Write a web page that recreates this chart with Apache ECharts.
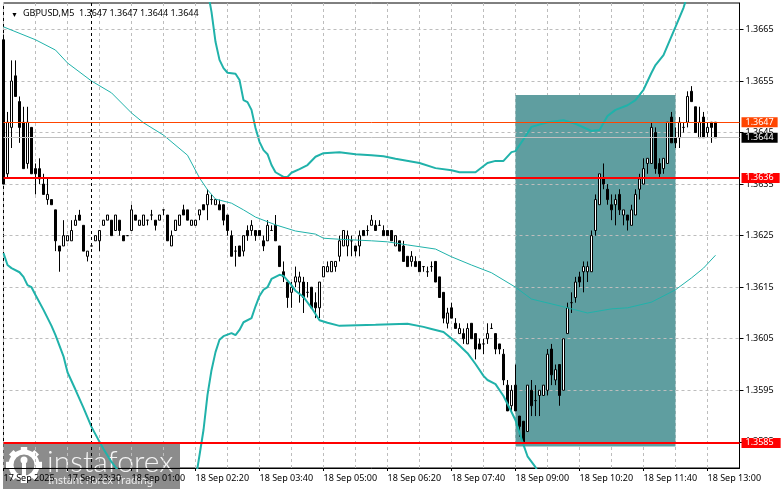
<!DOCTYPE html>
<html><head><meta charset="utf-8">
<style>html,body{margin:0;padding:0;background:#fff}#c{width:781px;height:489px}</style>
<script src="https://cdn.jsdelivr.net/npm/echarts@6/dist/echarts.min.js"></script>
</head><body><div id="c"></div>
<script>
const opens=[1.3663,1.3637,1.3646,1.3656,1.3651,1.3647,1.3639,1.3646,1.3638,1.3638,
1.3635,1.3632,1.3632,1.3630,1.3623,1.3623,1.3624,1.3624,1.3627,1.3629,
1.3627,1.3621,1.3623,1.3624,1.3624,1.3627,1.3628,1.3628,1.3626,1.3628,
1.3625,1.3625,1.3626,1.3629,1.3627,1.3627,1.3628,1.3629,1.3628,1.3628,
1.3630,1.3629,1.3623,1.3626,1.3627,1.3630,1.3630,1.3627,1.3627,1.3629,
1.3631,1.3631,1.3632,1.3631,1.3631,1.3631,1.3629,1.3625,1.3622,1.3623,
1.3622,1.3626,1.3626,1.3626,1.3626,1.3624,1.3624,1.3626,1.3627,1.3623,
1.3618,1.3616,1.3614,1.3616,1.3616,1.3616,1.3614,1.3615,1.3612,1.3611,
1.3617,1.3618,1.3618,1.3619,1.3621,1.3623,1.3623,1.3624,1.3623,1.3623,
1.3626,1.3626,1.3627,1.3627,1.3627,1.3626,1.3626,1.3626,1.3623,1.3624,
1.3623,1.3621,1.3620,1.3620,1.3620,1.3619,1.3618,1.3619,1.3620,1.3617,
1.3614,1.3608,1.3611,1.3608,1.3606,1.3606,1.3604,1.3608,1.3606,1.3604,
1.3604,1.3605,1.3607,1.3606,1.3604,1.3602,1.3596,1.3592,1.3596,1.3590,
1.3589,1.3587,1.3595,1.3593,1.3594,1.3594,1.3595,1.3603,1.3597,1.3600,
1.3595,1.3606,1.3612,1.3613,1.3617,1.3618,1.3618,1.3618,1.3626,1.3631,
1.3636,1.3634,1.3631,1.3631,1.3633,1.3629,1.3629,1.3627,1.3629,1.3634,
1.3635,1.3639,1.3639,1.3645,1.3639,1.3638,1.3639,1.3648,1.3644,1.3644,
1.3646,1.3647,1.3653,1.3650,1.3644,1.3648,1.3645,1.3647,1.3647];
const closes=[1.3635,1.3647,1.3655,1.3652,1.3646,1.3638,1.3647,1.3637,1.3637,1.3636,
1.3633,1.3633,1.3631,1.3624,1.3622,1.3625,1.3625,1.3626,1.3628,1.3628,
1.3622,1.3622,1.3623,1.3625,1.3626,1.3628,1.3629,1.3625,1.3629,1.3626,
1.3624,1.3625,1.3630,1.3628,1.3628,1.3629,1.3628,1.3629,1.3627,1.3629,
1.3630,1.3624,1.3625,1.3628,1.3629,1.3629,1.3628,1.3628,1.3628,1.3630,
1.3630,1.3633,1.3632,1.3632,1.3630,1.3628,1.3626,1.3621,1.3622,1.3621,
1.3625,1.3625,1.3627,1.3625,1.3625,1.3623,1.3627,1.3626,1.3624,1.3619,
1.3617,1.3613,1.3615,1.3617,1.3617,1.3613,1.3614,1.3611,1.3611,1.3616,
1.3619,1.3619,1.3620,1.3620,1.3624,1.3626,1.3625,1.3624,1.3622,1.3625,
1.3625,1.3626,1.3628,1.3626,1.3627,1.3625,1.3625,1.3624,1.3625,1.3622,
1.3620,1.3619,1.3621,1.3619,1.3618,1.3619,1.3618,1.3619,1.3616,1.3613,
1.3609,1.3610,1.3609,1.3607,1.3607,1.3605,1.3607,1.3605,1.3603,1.3603,
1.3604,1.3606,1.3607,1.3603,1.3603,1.3597,1.3591,1.3595,1.3591,1.3588,
1.3585,1.3596,1.3592,1.3593,1.3595,1.3596,1.3602,1.3598,1.3599,1.3594,
1.3605,1.3611,1.3612,1.3616,1.3616,1.3619,1.3619,1.3625,1.3632,1.3637,
1.3635,1.3632,1.3630,1.3632,1.3630,1.3630,1.3628,1.3630,1.3633,1.3636,
1.3638,1.3640,1.3646,1.3638,1.3637,1.3640,1.3647,1.3643,1.3643,1.3647,
1.3646,1.3652,1.3651,1.3645,1.3647,1.3644,1.3646,1.3646,1.3644];
const highs=[1.3664,1.3649,1.3659,1.3659,1.3652,1.3650,1.3650,1.3646,1.3639,1.3640,
1.3637,1.3636,1.3632,1.3630,1.3623,1.3628,1.3625,1.3628,1.3629,1.3630,
1.3627,1.3622,1.3623,1.3625,1.3626,1.3628,1.3629,1.3628,1.3629,1.3628,
1.3625,1.3625,1.3631,1.3629,1.3628,1.3629,1.3628,1.3630,1.3628,1.3629,
1.3630,1.3629,1.3626,1.3628,1.3629,1.3631,1.3630,1.3628,1.3628,1.3630,
1.3631,1.3634,1.3633,1.3632,1.3632,1.3631,1.3629,1.3626,1.3623,1.3623,
1.3625,1.3627,1.3628,1.3626,1.3626,1.3625,1.3628,1.3627,1.3629,1.3623,
1.3620,1.3616,1.3616,1.3619,1.3618,1.3617,1.3616,1.3615,1.3614,1.3616,
1.3619,1.3620,1.3620,1.3620,1.3625,1.3626,1.3626,1.3625,1.3623,1.3626,
1.3626,1.3627,1.3629,1.3628,1.3628,1.3627,1.3626,1.3626,1.3625,1.3624,
1.3624,1.3621,1.3622,1.3621,1.3620,1.3619,1.3619,1.3620,1.3620,1.3617,
1.3614,1.3611,1.3612,1.3609,1.3608,1.3607,1.3608,1.3608,1.3606,1.3605,
1.3605,1.3608,1.3608,1.3606,1.3604,1.3603,1.3597,1.3596,1.3600,1.3590,
1.3589,1.3596,1.3597,1.3596,1.3595,1.3596,1.3603,1.3604,1.3600,1.3600,
1.3605,1.3612,1.3614,1.3617,1.3618,1.3620,1.3620,1.3626,1.3633,1.3637,
1.3639,1.3635,1.3633,1.3633,1.3634,1.3630,1.3629,1.3631,1.3634,1.3637,
1.3640,1.3640,1.3647,1.3646,1.3640,1.3640,1.3647,1.3649,1.3646,1.3648,
1.3647,1.3653,1.3654,1.3650,1.3650,1.3649,1.3647,1.3647,1.3647];
const lows=[1.3635,1.3636,1.3642,1.3652,1.3643,1.3638,1.3638,1.3637,1.3633,1.3635,
1.3633,1.3631,1.3631,1.3622,1.3618,1.3623,1.3624,1.3624,1.3627,1.3628,
1.3622,1.3620,1.3623,1.3624,1.3622,1.3627,1.3628,1.3625,1.3626,1.3625,
1.3624,1.3625,1.3626,1.3628,1.3627,1.3627,1.3627,1.3628,1.3626,1.3628,
1.3629,1.3624,1.3623,1.3626,1.3627,1.3629,1.3628,1.3627,1.3627,1.3628,
1.3630,1.3628,1.3631,1.3631,1.3630,1.3627,1.3625,1.3621,1.3619,1.3621,
1.3621,1.3624,1.3625,1.3624,1.3625,1.3622,1.3624,1.3626,1.3624,1.3619,
1.3616,1.3611,1.3611,1.3615,1.3612,1.3610,1.3613,1.3611,1.3609,1.3609,
1.3617,1.3618,1.3618,1.3618,1.3620,1.3623,1.3621,1.3621,1.3621,1.3621,
1.3625,1.3625,1.3627,1.3626,1.3627,1.3625,1.3625,1.3624,1.3623,1.3622,
1.3620,1.3619,1.3619,1.3619,1.3618,1.3618,1.3617,1.3618,1.3616,1.3613,
1.3608,1.3607,1.3609,1.3607,1.3606,1.3604,1.3604,1.3605,1.3601,1.3603,
1.3602,1.3604,1.3607,1.3602,1.3602,1.3596,1.3591,1.3591,1.3591,1.3586,
1.3585,1.3587,1.3590,1.3590,1.3590,1.3594,1.3594,1.3596,1.3596,1.3592,
1.3595,1.3606,1.3610,1.3612,1.3615,1.3614,1.3616,1.3618,1.3625,1.3631,
1.3634,1.3631,1.3628,1.3627,1.3629,1.3627,1.3626,1.3627,1.3629,1.3632,
1.3635,1.3637,1.3639,1.3637,1.3636,1.3637,1.3639,1.3643,1.3642,1.3642,
1.3645,1.3646,1.3651,1.3645,1.3644,1.3644,1.3644,1.3643,1.3644];

const midBand=[[0,1.36655],[8,1.3663],[13,1.3661],[16,1.36585],[22,1.3655],[27,1.36527],[32,1.36488],[35,1.36469],[40,1.36445],[46,1.36406],[49,1.36362],[51,1.36339],[53,1.36321],[57,1.36313],[60,1.363],[63,1.36286],[68,1.36271],[73,1.36259],[78,1.36253],[80,1.36245],[84,1.36243],[92,1.3624],[96,1.36238],[101,1.36232],[108,1.36224],[112,1.36209],[117,1.36193],[122,1.36178],[128,1.3615],[132,1.36127],[140,1.36112],[146,1.361],[152,1.36108],[156,1.3611],[162,1.36121],[168,1.36145],[172,1.36168],[175,1.36187],[178,1.36212]];
const upperBand=[[51,1.36727],[52,1.36684],[53,1.36626],[54,1.36591],[55,1.36575],[56,1.36566],[58,1.36564],[59,1.36552],[60,1.36513],[61,1.36509],[62,1.36494],[63,1.36459],[64,1.36432],[65,1.36416],[66,1.36408],[67,1.36387],[68,1.36373],[70,1.36364],[71,1.36364],[72,1.36372],[74,1.36379],[76,1.36387],[78,1.36403],[80,1.3641],[84,1.36412],[88,1.36408],[92,1.36406],[95,1.36404],[98,1.36399],[104,1.36391],[108,1.36381],[112,1.36377],[114,1.36373],[118,1.36373],[121,1.36391],[123,1.36395],[125,1.36395],[127,1.36412],[128,1.36414],[130,1.36437],[132,1.36461],[136,1.3647],[140,1.36474],[143,1.36467],[147,1.36453],[149,1.36455],[151,1.36482],[153,1.36494],[156,1.36503],[158,1.36513],[160,1.36533],[162,1.36566],[163,1.36581],[165,1.366],[168,1.36655],[170,1.36692],[171,1.36717]];
const lowerBand=[[0,1.36216],[1,1.36193],[2,1.36187],[4,1.36179],[5,1.3617],[6,1.36154],[7,1.3615],[8,1.36135],[10,1.36106],[12,1.36075],[13,1.36057],[15,1.36016],[16,1.35985],[18,1.35951],[20,1.35916],[22,1.35879],[24,1.3585],[25,1.35836],[27,1.35811],[29,1.35791],[48,1.35776],[49,1.35824],[50,1.35873],[51,1.35941],[52,1.35989],[53,1.36024],[54,1.36048],[55,1.36055],[57,1.36061],[58,1.36057],[59,1.36067],[60,1.36082],[62,1.3609],[63,1.36113],[64,1.36133],[65,1.36145],[66,1.3615],[67,1.36166],[69,1.36174],[70,1.36172],[72,1.36154],[73,1.36143],[75,1.36131],[77,1.3611],[79,1.36086],[81,1.36081],[84,1.36075],[93,1.36077],[101,1.36079],[105,1.36073],[107,1.36069],[110,1.36063],[113,1.36044],[116,1.36022],[118,1.36001],[120,1.35978],[121,1.3597],[123,1.35962],[125,1.35939],[127,1.35908],[128,1.35892],[130,1.35844],[131,1.35822],[133,1.35801],[134,1.35785]];

const tickLabels=['17 Sep 2025','17 Sep 23:30','18 Sep 01:00','18 Sep 02:20','18 Sep 03:40','18 Sep 05:00','18 Sep 06:20','18 Sep 07:40','18 Sep 09:00','18 Sep 10:20','18 Sep 11:40','18 Sep 13:00'];
const priceTicks=[1.3585,1.3595,1.3605,1.3615,1.3625,1.3635,1.3645,1.3655,1.3665];
const slots=185, labelEvery=16, gridEvery=8;
const categories=Array.from({length:slots},(_,i)=>i%labelEvery===0?tickLabels[i/labelEvery]:'bar'+i);
const candles=opens.map((o,i)=>[o,closes[i],lows[i],highs[i]]);
const separatorIdx=22;
const zone={x0:128,x1:168,top:1.36523,bottom:1.35841};
const levels=[
 {v:1.3644,line:'#C0C0C0',w:1,bg:'#000000',pad:[1,4,0,4]},
 {v:1.3647,line:'#FF4500',w:1,bg:'#FF4500',pad:[1,4,0,4]},
 {v:1.36362,line:'#FF0000',w:2,bg:'#FF0000',pad:[1,6,0,4]},
 {v:1.35848,line:'#FF0000',w:2,bg:'#FF0000',pad:[1,7,0,4]}
];
const FONT='"Noto Sans"';
const gearTeeth=[0,1,2,3,4,5,6,7].map(k=>({type:'rect',rotation:k*Math.PI/4,shape:{x:-3.2,y:-18,width:6.4,height:6},style:{fill:'#fff'}}));

const chart=echarts.init(document.getElementById('c'),null,{renderer:'canvas'});
chart.setOption({
 animation:false,
 backgroundColor:'#fff',
 grid:{left:3.5,top:3,width:736,height:465,show:true,borderColor:'#000',borderWidth:1,backgroundColor:'transparent'},
 title:[
  {text:'▼',left:6,top:6,textStyle:{fontFamily:FONT,fontSize:7,fontWeight:'normal',color:'#000'}},
  {text:'GBPUSD,M5  1.3647 1.3647 1.3644 1.3644',left:18,top:4,textStyle:{fontFamily:FONT,fontSize:9,fontWeight:'normal',color:'#000'}}
 ],
 xAxis:{type:'category',data:categories,boundaryGap:false,z:0,
  axisLine:{show:true,lineStyle:{color:'#000'}},
  axisTick:{show:true,length:3,interval:(i)=>i%labelEvery===0,lineStyle:{color:'#000'}},
  axisLabel:{show:true,align:'left',margin:6,fontFamily:FONT,fontSize:9,color:'#000',interval:(i)=>i%labelEvery===0,hideOverlap:false},
  splitLine:{show:true,interval:(i)=>i%gridEvery===0,lineStyle:{color:'#BDBDBD',type:[3,3],width:1}}
 },
 yAxis:{type:'value',position:'right',min:1.3579927,max:1.3670131,z:1.5,scale:true,
  axisLine:{show:true,lineStyle:{color:'#000'}},
  axisTick:{show:true,length:4,customValues:priceTicks,lineStyle:{color:'#000'}},
  axisLabel:{show:true,margin:6,fontFamily:FONT,fontSize:9,color:'#000',customValues:priceTicks,formatter:(v)=>v.toFixed(4)},
  splitLine:{show:true,lineStyle:{color:'#BDBDBD',type:[3,3],width:1}}
 },
 series:[
  {type:'line',name:'zone',data:[],z:1,silent:true,
   markArea:{z:1,silent:true,itemStyle:{color:'#5F9EA0',opacity:1},data:[[{xAxis:zone.x0,yAxis:zone.top},{xAxis:zone.x1,yAxis:zone.bottom}]]}},
  {type:'candlestick',name:'GBPUSD',data:candles,z:3,barWidth:2,
   itemStyle:{color:'#fff',color0:'#000',borderColor:'#000',borderColor0:'#000',borderColorDoji:'#000',borderWidth:1}},
  {type:'line',name:'mid',data:midBand,z:4,showSymbol:false,lineStyle:{color:'#20B2AA',width:1}},
  {type:'line',name:'upper',data:upperBand,z:4,showSymbol:false,lineStyle:{color:'#20B2AA',width:2}},
  {type:'line',name:'lower',data:lowerBand,z:4,showSymbol:false,lineStyle:{color:'#20B2AA',width:2}},
  {type:'line',name:'levels',data:[],z:5,silent:true,
   markLine:{z:5,silent:true,symbol:'none',animation:false,precision:5,
    data:[{xAxis:separatorIdx,lineStyle:{color:'#000',type:[3,3],width:1},label:{show:false}}].concat(levels.map(l=>({
     yAxis:l.v,lineStyle:{color:l.line,type:'solid',width:l.w},
     label:{show:true,position:'end',distance:2,formatter:l.v.toFixed(4),color:'#fff',backgroundColor:l.bg,padding:l.pad,fontFamily:FONT,fontSize:9}
    })))}}
 ],
 graphic:[{type:'group',x:0,y:0,z:100,silent:true,children:[
  {type:'rect',shape:{x:3,y:444,width:177,height:45},style:{fill:'rgba(120,120,120,0.85)'}},
  {type:'group',x:24,y:465,children:gearTeeth.concat([
   {type:'circle',shape:{cx:0,cy:0,r:13},style:{fill:'none',stroke:'#fff',lineWidth:5}},
   {type:'circle',shape:{cx:0,cy:-5,r:3.5},style:{fill:'#fff'}},
   {type:'rect',shape:{x:-2,y:-2,width:4,height:14},style:{fill:'#fff'}}
  ])},
  {type:'text',x:47,y:447,style:{text:'instaforex',fill:'rgba(255,255,255,0.9)',font:'300 30px Lato, "Open Sans", sans-serif'}},
  {type:'text',x:48,y:476,style:{text:'Instant Forex Trading',fill:'rgba(255,255,255,0.85)',font:'10.5px "Noto Sans"'}}
 ]}]
});
</script></body></html>
